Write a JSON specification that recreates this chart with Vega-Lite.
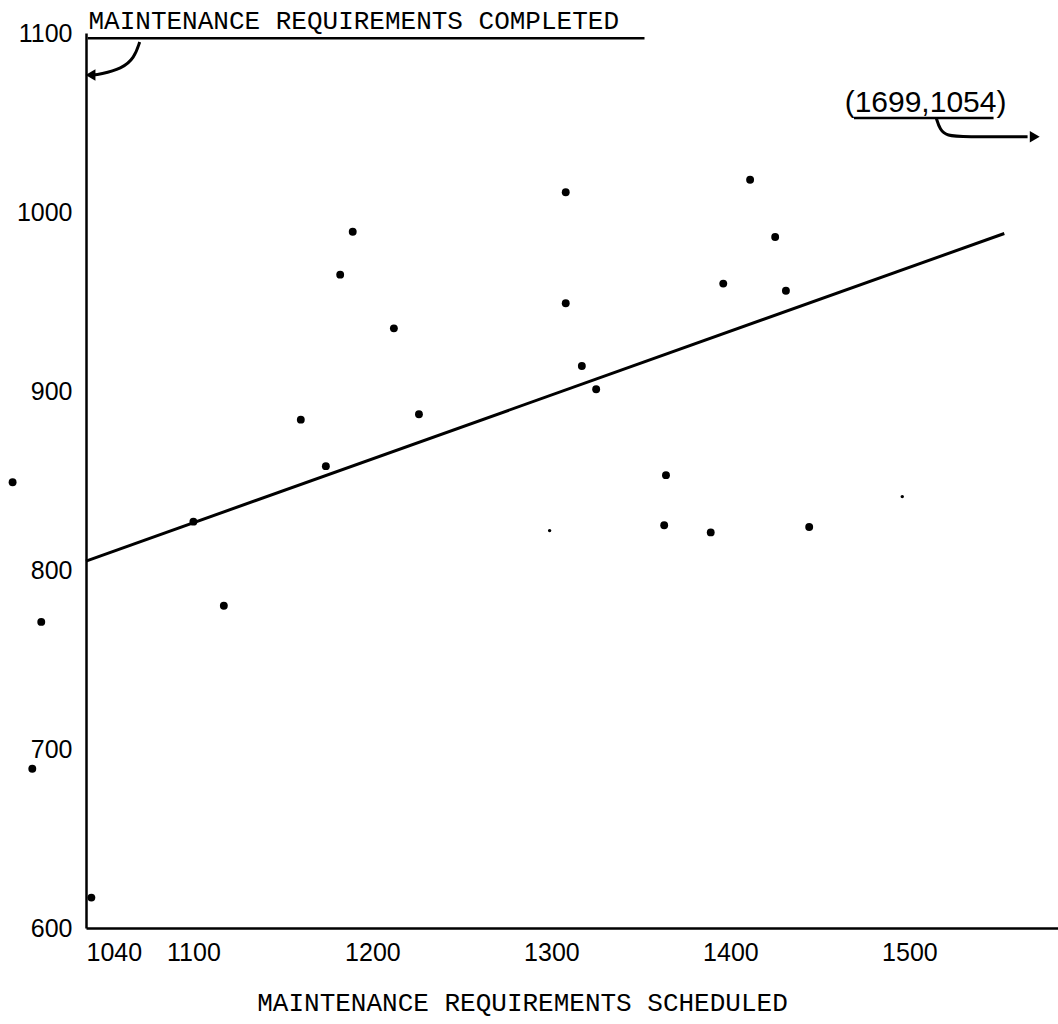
{
  "$schema": "https://vega.github.io/schema/vega-lite/v6.json",
  "autosize": "none",
  "width": 972,
  "height": 895,
  "padding": {"left": 86, "top": 33, "right": 0, "bottom": 96},
  "background": "white",
  "config": {"view": {"stroke": null}},
  "datasets": {
    "obs": [
      {"scheduled": 999, "completed": 849},
      {"scheduled": 1015, "completed": 771},
      {"scheduled": 1010, "completed": 689},
      {"scheduled": 1043, "completed": 617},
      {"scheduled": 1100, "completed": 827},
      {"scheduled": 1117, "completed": 780},
      {"scheduled": 1160, "completed": 884},
      {"scheduled": 1174, "completed": 858},
      {"scheduled": 1182, "completed": 965},
      {"scheduled": 1189, "completed": 989},
      {"scheduled": 1212, "completed": 935},
      {"scheduled": 1226, "completed": 887},
      {"scheduled": 1308, "completed": 1011},
      {"scheduled": 1308, "completed": 949},
      {"scheduled": 1317, "completed": 914},
      {"scheduled": 1325, "completed": 901},
      {"scheduled": 1364, "completed": 853},
      {"scheduled": 1363, "completed": 825},
      {"scheduled": 1389, "completed": 821},
      {"scheduled": 1396, "completed": 960},
      {"scheduled": 1411, "completed": 1018},
      {"scheduled": 1425, "completed": 986},
      {"scheduled": 1431, "completed": 956},
      {"scheduled": 1444, "completed": 824}
    ],
    "faint": [
      {"scheduled": 1496, "completed": 841},
      {"scheduled": 1299, "completed": 822}
    ],
    "fit": [
      {"scheduled": 1040, "completed": 805},
      {"scheduled": 1553, "completed": 988}
    ],
    "underlines": [
      {"x1": 1041, "x2": 1352, "y": 1097},
      {"x1": 1469, "x2": 1547, "y": 1052.5}
    ],
    "arrowA": [
      {"scheduled": 1070, "completed": 1095, "o": 1},
      {"scheduled": 1067, "completed": 1086, "o": 2},
      {"scheduled": 1060, "completed": 1080, "o": 3},
      {"scheduled": 1048, "completed": 1077, "o": 4},
      {"scheduled": 1043, "completed": 1076.5, "o": 5}
    ],
    "arrowB": [
      {"scheduled": 1515, "completed": 1052.5, "o": 1},
      {"scheduled": 1517, "completed": 1046, "o": 2},
      {"scheduled": 1521, "completed": 1042.5, "o": 3},
      {"scheduled": 1530, "completed": 1042, "o": 4},
      {"scheduled": 1566, "completed": 1042, "o": 5}
    ],
    "heads": [
      {"scheduled": 1042.5, "completed": 1076.5, "dir": "triangle-left"},
      {"scheduled": 1570, "completed": 1042, "dir": "triangle-right"}
    ],
    "notes": [
      {"scheduled": 1509, "completed": 1056, "label": "(1699,1054)"}
    ]
  },
  "encoding": {
    "x": {
      "type": "quantitative",
      "scale": {"domain": [1040, 1583], "nice": false, "zero": false}
    },
    "y": {
      "type": "quantitative",
      "scale": {"domain": [600, 1100], "nice": false, "zero": false}
    }
  },
  "layer": [
    {
      "data": {"name": "obs"},
      "mark": {"type": "circle", "size": 62, "color": "black", "opacity": 1},
      "encoding": {
        "x": {
          "field": "scheduled",
          "type": "quantitative",
          "title": "MAINTENANCE REQUIREMENTS SCHEDULED",
          "axis": {
            "values": [1040, 1100, 1200, 1300, 1400, 1500],
            "format": "d",
            "grid": false,
            "domainColor": "black",
            "domainWidth": 2.5,
            "tickColor": "black",
            "tickSize": 0,
            "labelFont": "Liberation Sans",
            "labelFontSize": 25,
            "labelColor": "black",
            "labelPadding": 12,
            "labelAlign": {"condition": {"test": "datum.value == 1040", "value": "left"}, "value": "center"},
            "titleFont": "Liberation Mono",
            "titleFontSize": 26,
            "titleFontWeight": "normal",
            "titleColor": "black",
            "titleX": 436,
            "titlePadding": 24
          }
        },
        "y": {
          "field": "completed",
          "type": "quantitative",
          "title": "MAINTENANCE REQUIREMENTS COMPLETED",
          "axis": {
            "values": [600, 700, 800, 900, 1000, 1100],
            "format": "d",
            "grid": false,
            "domainColor": "black",
            "domainWidth": 2.5,
            "tickColor": "black",
            "tickSize": 0,
            "labelFont": "Liberation Sans",
            "labelFontSize": 25,
            "labelColor": "black",
            "labelPadding": 14,
            "titleFont": "Liberation Mono",
            "titleFontSize": 26,
            "titleFontWeight": "normal",
            "titleColor": "black",
            "titleAngle": 0,
            "titleAlign": "left",
            "titleBaseline": "alphabetic",
            "titleX": 2,
            "titleY": -5
          }
        }
      }
    },
    {
      "data": {"name": "faint"},
      "mark": {"type": "circle", "size": 12, "color": "black", "opacity": 1},
      "encoding": {
        "x": {"field": "scheduled", "type": "quantitative"},
        "y": {"field": "completed", "type": "quantitative"}
      }
    },
    {
      "data": {"name": "fit"},
      "mark": {"type": "line", "color": "black", "strokeWidth": 3},
      "encoding": {
        "x": {"field": "scheduled", "type": "quantitative"},
        "y": {"field": "completed", "type": "quantitative"}
      }
    },
    {
      "data": {"name": "underlines"},
      "mark": {"type": "rule", "color": "black", "strokeWidth": 2.5},
      "encoding": {
        "x": {"field": "x1", "type": "quantitative"},
        "x2": {"field": "x2"},
        "y": {"field": "y", "type": "quantitative"}
      }
    },
    {
      "data": {"name": "arrowA"},
      "mark": {"type": "line", "color": "black", "strokeWidth": 3, "interpolate": "basis"},
      "encoding": {
        "x": {"field": "scheduled", "type": "quantitative"},
        "y": {"field": "completed", "type": "quantitative"},
        "order": {"field": "o"}
      }
    },
    {
      "data": {"name": "arrowB"},
      "mark": {"type": "line", "color": "black", "strokeWidth": 3, "interpolate": "basis"},
      "encoding": {
        "x": {"field": "scheduled", "type": "quantitative"},
        "y": {"field": "completed", "type": "quantitative"},
        "order": {"field": "o"}
      }
    },
    {
      "data": {"name": "heads"},
      "mark": {"type": "point", "filled": true, "color": "black", "size": 130, "opacity": 1},
      "encoding": {
        "x": {"field": "scheduled", "type": "quantitative"},
        "y": {"field": "completed", "type": "quantitative"},
        "shape": {"field": "dir", "type": "nominal", "scale": null, "legend": null}
      }
    },
    {
      "data": {"name": "notes"},
      "mark": {"type": "text", "font": "Liberation Sans", "fontSize": 30, "color": "black", "align": "center", "baseline": "alphabetic"},
      "encoding": {
        "x": {"field": "scheduled", "type": "quantitative"},
        "y": {"field": "completed", "type": "quantitative"},
        "text": {"field": "label"}
      }
    }
  ]
}
